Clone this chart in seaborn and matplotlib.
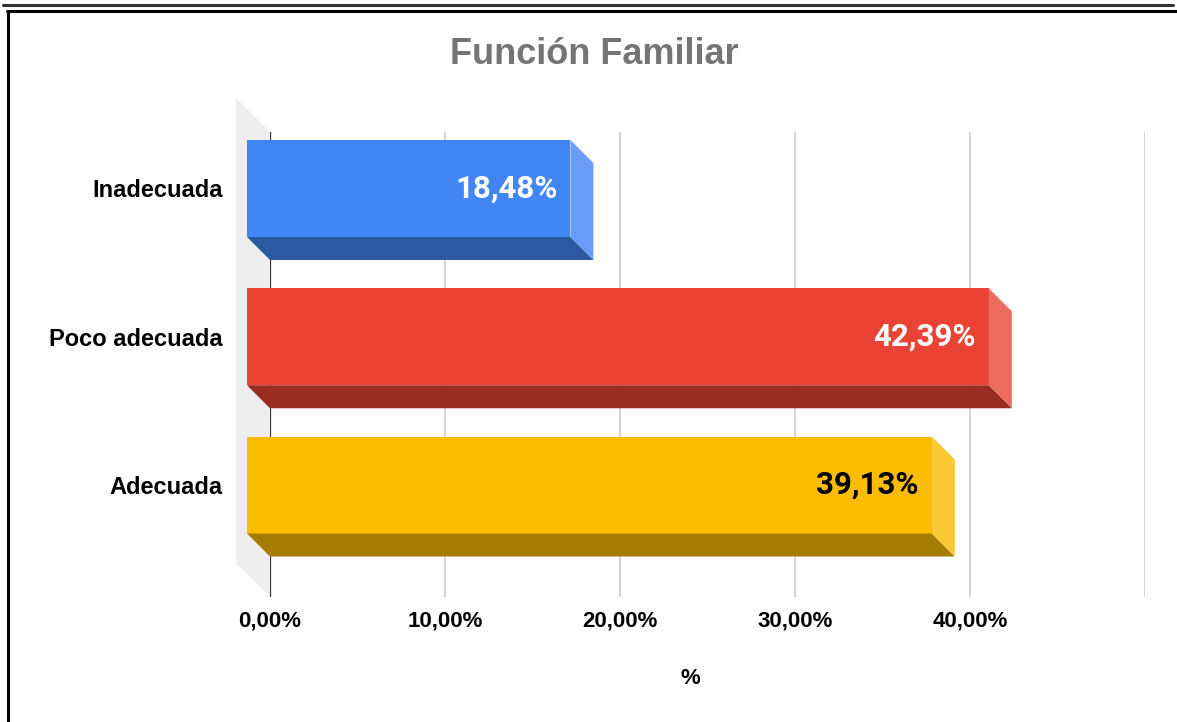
import numpy as np
import pandas as pd
import matplotlib
matplotlib.use("Agg")
import matplotlib.pyplot as plt
from matplotlib.patches import Polygon
from matplotlib.lines import Line2D
import seaborn as sns

# =========================
# DATA
# =========================
categories = ["Inadecuada", "Poco adecuada", "Adecuada"]
values = [18.48, 42.39, 39.13]
value_labels = ["18,48%", "42,39%", "39,13%"]
tick_values = [0, 10, 20, 30, 40, 50]
tick_labels = ["0,00%", "10,00%", "20,00%", "30,00%", "40,00%", ""]

front_colors = ["#4285F4", "#EA4335", "#FBBC04"]
bottom_colors = ["#2C5AA0", "#992B22", "#A67C02"]
side_colors = ["#6A9DF6", "#EE6B5F", "#FCC934"]
label_colors = ["white", "white", "black"]

df = pd.DataFrame({"cat": categories, "val": values})

# =========================
# FIGURE
# =========================
sns.set_style("white")
plt.rcParams["font.family"] = ["Liberation Sans", "DejaVu Sans"]

fig = plt.figure(figsize=(11.77, 7.22), dpi=100)
W, H = 1177, 722
ax = fig.add_axes([270 / W, 1 - 597 / H, 875 / W, 465 / H])

bar_h = 0.654
sns.barplot(data=df, x="val", y="cat", hue="cat", palette=front_colors,
            saturation=1, legend=False, width=bar_h, orient="h",
            linewidth=0, ax=ax, zorder=3)

ax.set_xlim(0, 50)
ax.set_ylim(2.755, -0.381)

# depth of the fake 3D effect, pixels -> data units
px_x = ax.bbox.width / 50.0
px_y = ax.bbox.height / (2.755 + 0.381)
dx = 23 / px_x
dy = 23 / px_y
wx = 34 / px_x
wy = 34 / px_y

# back wall
y_top, y_bot = -0.381, 2.755
wall = Polygon([(-wx, y_top - wy), (0, y_top), (0, y_bot), (-wx, y_bot - wy)],
               closed=True, facecolor="#EEEEEE", edgecolor="none",
               zorder=0.5, clip_on=False)
ax.add_patch(wall)
ax.axvline(0, color="#333333", lw=1.6, zorder=1)

# =========================
# 3D BARS
# =========================
for p in list(ax.patches):
    if p is wall:
        continue
    yc = p.get_y() + p.get_height() / 2
    i = int(round(yc))
    v = p.get_width()
    p.set_x(p.get_x() - dx)
    p.set_clip_on(False)
    top = yc - bar_h / 2
    bot = yc + bar_h / 2
    ax.add_patch(Polygon([(-dx, bot), (v - dx, bot), (v, bot + dy), (0, bot + dy)],
                         closed=True, facecolor=bottom_colors[i],
                         edgecolor="none", zorder=3, clip_on=False))
    ax.add_patch(Polygon([(v - dx, top), (v, top + dy), (v, bot + dy), (v - dx, bot)],
                         closed=True, facecolor=side_colors[i],
                         edgecolor="none", zorder=3, clip_on=False))
    ax.text(v - dx - 13 / px_x, yc, value_labels[i], ha="right", va="center",
            fontsize=22.5, fontweight="bold", color=label_colors[i],
            family=["Roboto", "DejaVu Sans"], zorder=5)

# =========================
# AXES STYLE
# =========================
ax.set_xticks(tick_values)
ax.set_xticklabels(tick_labels)
ax.grid(axis="x", color="#CCCCCC", lw=1.2, zorder=0)
ax.grid(axis="y", visible=False)
ax.set_axisbelow(True)
for s in ax.spines.values():
    s.set_visible(False)
ax.tick_params(axis="x", length=0, pad=10, labelsize=16, labelcolor="black")
ax.tick_params(axis="y", length=0, pad=34, labelsize=17, labelcolor="black")
for t in ax.get_xticklabels() + ax.get_yticklabels():
    t.set_fontweight("bold")
ax.set_xlabel("")
ax.set_ylabel("")

fig.text(594 / W, 1 - 55 / H, "Función Familiar", ha="center", va="center",
         fontsize=26, fontweight="bold", color="#757575")
fig.text(690 / W, 1 - 678 / H, "%", ha="center", va="center",
         fontsize=16, fontweight="bold", color="black")

# frame
fig.add_artist(Line2D([3 / W, 1173 / W], [1 - 5 / H, 1 - 5 / H], color="#333333", lw=2.2))
fig.add_artist(Line2D([7 / W, 1], [1 - 11 / H, 1 - 11 / H], color="black", lw=2.2))
fig.add_artist(Line2D([8 / W, 8 / W], [1 - 11 / H, 0], color="black", lw=2.2))

fig.savefig("out.png", dpi=100)
